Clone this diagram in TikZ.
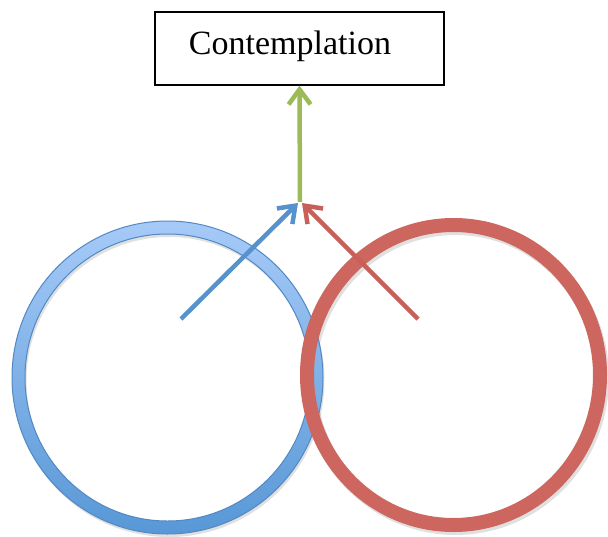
\documentclass[tikz,border=0pt]{standalone}
\usepackage{fontspec}
\setmainfont{Liberation Serif}
\usetikzlibrary{arrows.meta}
\definecolor{bluelight}{RGB}{166,202,248}
\definecolor{bluedark}{RGB}{88,152,214}
\definecolor{blueedge}{RGB}{82,136,196}
\definecolor{bluearrow}{RGB}{86,146,204}
\definecolor{redring}{RGB}{205,102,94}
\definecolor{redarrow}{RGB}{200,96,89}
\definecolor{greenarrow}{RGB}{155,187,89}
\tikzset{
  titlebox/.style={draw=black, line width=1.2pt, minimum width=289pt, minimum height=73pt, inner sep=0pt, text height=20pt, text depth=9pt, font=\fontsize{34}{40}\selectfont},
  flow/.style={line width=4.5pt, -{Straight Barb[length=15pt, width=22pt]}},
  ringshadow/.style={draw=black, draw opacity=0.12}
}
\begin{document}
\begin{tikzpicture}[x=1pt,y=-1pt]
\useasboundingbox (0,0) rectangle (608,536);
% shadows
\draw[ringshadow, line width=13pt] (169,380.5) ellipse [x radius=149pt, y radius=150pt];
\draw[ringshadow, line width=14pt] (455.5,378) ellipse [x radius=146.5pt, y radius=150pt];
% blue ring
\shade[top color=bluelight, bottom color=bluedark, even odd rule]
  (167.5,377.5) ellipse [x radius=155.5pt, y radius=156.5pt]
  (167.5,377.5) ellipse [x radius=142.5pt, y radius=143.5pt];
\draw[blueedge, line width=1pt] (167.5,377.5) ellipse [x radius=155.5pt, y radius=156.5pt];
\draw[blueedge, line width=1pt] (167.5,377.5) ellipse [x radius=142.5pt, y radius=143.5pt];
% red ring
\draw[redring, line width=14pt] (453.5,375) ellipse [x radius=146.5pt, y radius=150pt];
% nodes and coordinates
\node[titlebox] (cont) at (299.5,48.5) {\hspace*{-19pt}Contemplation};
\coordinate (meet) at (300,202);
\coordinate (btip) at (298,203);
\coordinate (rtip) at (302,203);
\coordinate (bstart) at (181,319);
\coordinate (rstart) at (418,319);
% arrows
\draw[flow, greenarrow] (meet) -- (cont.south);
\draw[flow, bluearrow] (bstart) -- (btip);
\draw[flow, redarrow] (rstart) -- (rtip);
\end{tikzpicture}
\end{document}
